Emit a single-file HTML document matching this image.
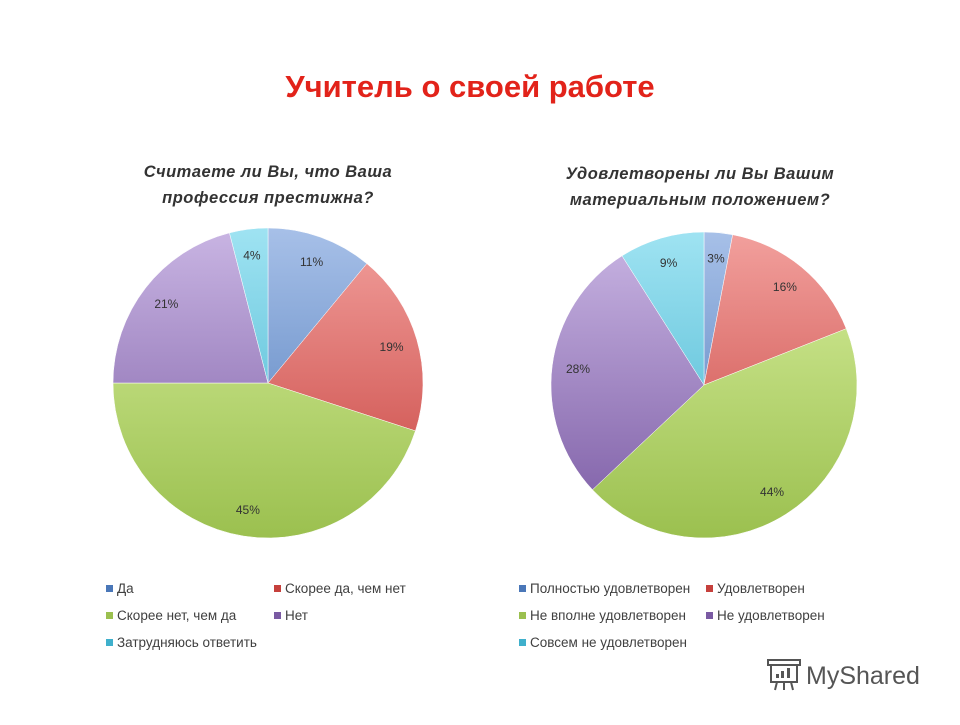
<!DOCTYPE html>
<html><head><meta charset="utf-8"><style>
body{margin:0;background:#fff;width:960px;height:720px;overflow:hidden;font-family:"Liberation Sans","DejaVu Sans",sans-serif}
</style></head><body>
<svg width="960" height="720" viewBox="0 0 960 720" xmlns="http://www.w3.org/2000/svg">
<defs id="defs"></defs>
<text x="470" y="97" text-anchor="middle" font-size="31" font-weight="bold" fill="#e2231a">Учитель о своей работе</text>
<g font-size="16.5" font-weight="bold" font-style="italic" fill="#333" text-anchor="middle" letter-spacing="0.5">
<text x="268" y="177">Считаете ли Вы, что Ваша</text>
<text x="268" y="203">профессия престижна?</text>
<text x="700" y="179">Удовлетворены ли Вы Вашим</text>
<text x="700" y="205">материальным положением?</text>
</g>
<g id="pies"></g>
<g id="legends" font-size="13.5" fill="#404040"></g>
<g>
<rect x="771" y="664" width="26" height="18" fill="none" stroke="#555" stroke-width="2"/>
<rect x="768" y="660" width="32" height="5" fill="#fff" stroke="#555" stroke-width="2"/>
<line x1="777" y1="682" x2="775" y2="690" stroke="#555" stroke-width="2"/><line x1="784" y1="682" x2="784" y2="690" stroke="#555" stroke-width="2"/><line x1="791" y1="682" x2="793" y2="690" stroke="#555" stroke-width="2"/>
<rect x="776" y="674" width="3" height="4" fill="#555"/><rect x="781" y="671" width="3" height="7" fill="#555"/><rect x="787" y="668" width="3" height="10" fill="#555"/>
<text x="806" y="684" font-size="25" fill="#555">MyShared</text>
</g>
</svg>
<script>
const NS="http://www.w3.org/2000/svg";
const colorsLight=["#a7c0e8","#f2a09d","#d8ef9e","#c9b5e3","#9fe3f2"];
const colorsDark=["#4a77b8","#c6403c","#9bc04f","#7a5aa3","#3fb0cc"];
const pie1Labels=["Да","Скорее да, чем нет","Скорее нет, чем да","Нет","Затрудняюсь ответить"];
const pie1Values=[11,19,45,21,4];
const pie2Labels=["Полностью удовлетворен","Удовлетворен","Не вполне удовлетворен","Не удовлетворен","Совсем не удовлетворен"];
const pie2Values=[3,16,44,28,9];
const defs=document.getElementById('defs');
function grad(id,i,cy,r){const g=document.createElementNS(NS,'linearGradient');g.setAttribute('id',id);g.setAttribute('gradientUnits','userSpaceOnUse');g.setAttribute('x1','0');g.setAttribute('x2','0');g.setAttribute('y1',cy-r);g.setAttribute('y2',cy+r);
g.innerHTML=`<stop offset="0" stop-color="${colorsLight[i]}"/><stop offset="1" stop-color="${colorsDark[i]}"/>`;defs.appendChild(g);}
function drawPie(key,cx,cy,r,values){
 const g=document.getElementById('pies');const total=values.reduce((a,b)=>a+b,0);let a0=0;
 values.forEach((v,i)=>{grad(key+i,i,cy,r);
  const a1=a0+v/total*2*Math.PI;
  const x0=cx+r*Math.sin(a0),y0=cy-r*Math.cos(a0),x1=cx+r*Math.sin(a1),y1=cy-r*Math.cos(a1);
  const p=document.createElementNS(NS,'path');
  p.setAttribute('d',`M${cx},${cy}L${x0},${y0}A${r},${r} 0 ${a1-a0>Math.PI?1:0} 1 ${x1},${y1}Z`);
  p.setAttribute('fill',`url(#${key+i})`);p.setAttribute('stroke','#fff');p.setAttribute('stroke-width','0.5');
  
  
  g.appendChild(p);
  const m=(a0+a1)/2,d=r*0.83;
  const t=document.createElementNS(NS,'text');t.setAttribute('x',cx+d*Math.sin(m));t.setAttribute('y',cy-d*Math.cos(m)+4);
  t.setAttribute('text-anchor','middle');t.setAttribute('font-size','12');t.setAttribute('fill','#333');t.textContent=v+'%';
  
  
  g.appendChild(t);a0=a1;});
}
drawPie('pie1',268,383,155,pie1Values);
drawPie('pie2',704,385,153,pie2Values);
function legend(key,labels,cols){
 const g=document.getElementById('legends');
 labels.forEach((l,i)=>{const x=cols[i%2],y=593+Math.floor(i/2)*27;
  const e=document.createElementNS(NS,'g');
  
  
  e.innerHTML=`<rect x="${x}" y="${y-8}" width="7" height="7" fill="${colorsDark[i]}"/><text x="${x+11}" y="${y}">${l}</text>`;
  g.appendChild(e);});
}
legend('pie1',pie1Labels,[106,274]);
legend('pie2',pie2Labels,[519,706]);
</script>
</body></html>
